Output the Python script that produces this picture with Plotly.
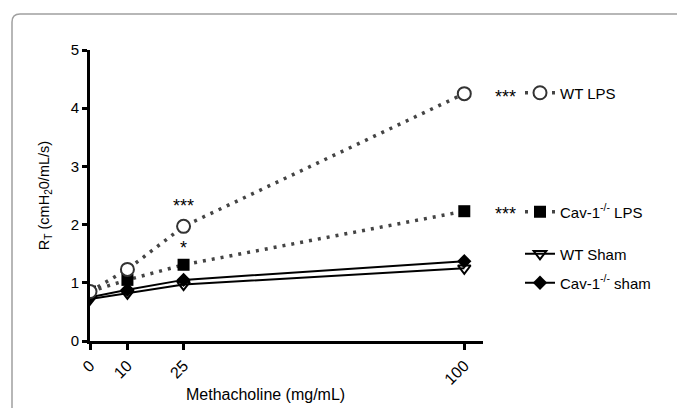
import plotly.graph_objects as go

dose = [0, 10, 25, 100]
wt_lps = [0.85, 1.23, 1.97, 4.25]
cav_lps = [0.85, 1.05, 1.31, 2.23]
wt_sham = [0.72, 0.82, 0.97, 1.25]
cav_sham = [0.75, 0.88, 1.05, 1.37]
x_ticks = [0, 10, 25, 100]
y_ticks = [0, 1, 2, 3, 4, 5]

FONT = "Liberation Sans, Arial, sans-serif"
W, H = 677, 408
fig = go.Figure()

fig.add_trace(go.Scatter(
    x=dose, y=wt_sham, name="WT Sham", mode="lines+markers",
    line=dict(color="black", width=2),
    marker=dict(symbol="triangle-down-open", size=11, color="black", line=dict(width=2)),
    legend="legend3"))
fig.add_trace(go.Scatter(
    x=dose, y=cav_sham, name="Cav-1<sup>-/-</sup> sham", mode="lines+markers",
    line=dict(color="black", width=2),
    marker=dict(symbol="diamond", size=11, color="black"),
    legend="legend4"))
fig.add_trace(go.Scatter(
    x=dose, y=cav_lps, name="Cav-1<sup>-/-</sup> LPS", mode="lines+markers",
    line=dict(color="#444", width=3.5, dash="3px,6px"),
    marker=dict(symbol="square", size=12, color="black"),
    legend="legend2"))
fig.add_trace(go.Scatter(
    x=dose, y=wt_lps, name="WT LPS", mode="lines+markers",
    line=dict(color="#444", width=3.5, dash="3px,6px"),
    marker=dict(symbol="circle", size=13, color="white", line=dict(color="#333", width=2)),
    legend="legend"))

def leg(py):
    return dict(x=520 / W, y=(H - py) / H, xref="container", yref="container",
                xanchor="left", yanchor="middle", bgcolor="rgba(0,0,0,0)",
                font=dict(family=FONT, size=15, color="black"), itemwidth=30)

# frame with rounded top-left corner
x0 = (12 - 90) / 393
yt = (341 - 14) / 291
rx, ry = 8 / 393, 8 / 291
fig.add_shape(type="path", xref="paper", yref="paper",
              path=f"M {x0},-0.5 L {x0},{yt-ry} Q {x0},{yt} {x0+rx},{yt} L 1.8,{yt}",
              line=dict(color="#a0a0a0", width=1.5), layer="below")

STAR = dict(family=FONT, size=18, color="black")
ann = [
    dict(x=25, y=1.97, xref="x", yref="y", text="***", showarrow=False, yshift=20, font=STAR),
    dict(x=25, y=1.31, xref="x", yref="y", text="*", showarrow=False, yshift=17, font=STAR),
    dict(x=(505 - 90) / 393, y=wt_lps[-1], xref="paper", yref="y", text="***", showarrow=False,
         xanchor="center", yshift=-3, font=STAR),
    dict(x=(505 - 90) / 393, y=cav_lps[-1], xref="paper", yref="y", text="***", showarrow=False,
         xanchor="center", yshift=-3, font=STAR),
    dict(x=(265 - 90) / 393, y=(341 - 394) / 291, xref="paper", yref="paper",
         text="Methacholine (mg/mL)", showarrow=False, yanchor="middle",
         font=dict(family=FONT, size=16, color="black")),
]

fig.update_layout(
    width=W, height=H,
    margin=dict(l=90, r=W - 483, t=50, b=67, autoexpand=False),
    paper_bgcolor="white", plot_bgcolor="white",
    font=dict(family=FONT, size=14, color="black"),
    showlegend=True,
    legend=leg(93),
    legend2=leg(212),
    legend3=leg(254),
    legend4=leg(283),
    annotations=ann,
    xaxis=dict(range=[0, 105], tickvals=x_ticks, ticktext=[str(v) for v in x_ticks],
               tickangle=-45, showline=True, linecolor="black", linewidth=3,
               ticks="outside", ticklen=6, tickwidth=2.5, tickcolor="black",
               showgrid=False, zeroline=False, tickfont=dict(size=16)),
    yaxis=dict(range=[0, 5], tickvals=y_ticks, showline=True, linecolor="black", linewidth=3,
               ticks="outside", ticklen=5, tickwidth=2.5, tickcolor="black",
               showgrid=False, zeroline=False, tickfont=dict(size=15),
               title=dict(text="R<sub>T</sub> (cmH<sub>2</sub>0/mL/s)", standoff=18,
                          font=dict(size=14.5))),
)

fig.write_html("out.html", config={"displayModeBar": False},
               post_script="document.body.style.margin='0';")
